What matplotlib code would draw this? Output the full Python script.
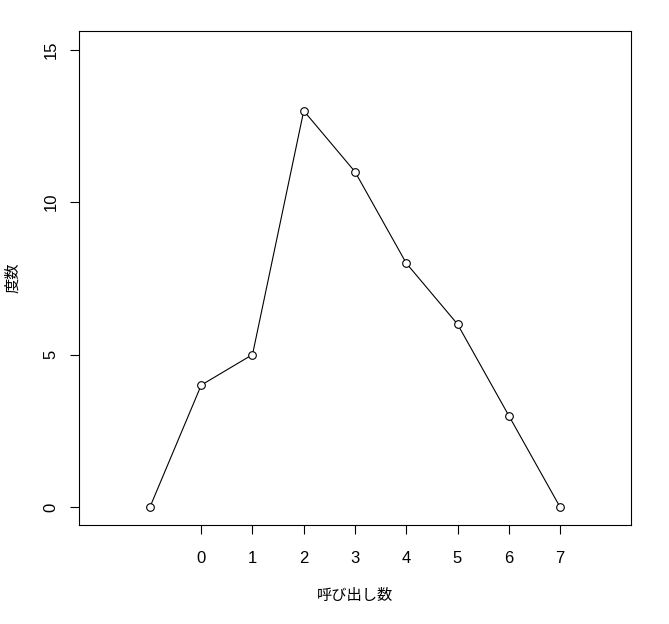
import matplotlib
matplotlib.use("Agg")
import matplotlib.pyplot as plt

# data
calls = [-1, 0, 1, 2, 3, 4, 5, 6, 7]
freq = [0, 4, 5, 13, 11, 8, 6, 3, 0]
xticks = [0, 1, 2, 3, 4, 5, 6, 7]
yticks = [0, 5, 10, 15]

plt.rcParams["font.family"] = ["Liberation Sans", "Noto Sans CJK JP", "DejaVu Sans"]

fig = plt.figure(figsize=(6.69, 6.24), dpi=100)
ax = fig.add_axes([0.1181, 0.1587, 0.8251, 0.7917])

ax.plot(calls, freq, color="black", linewidth=0.8,
        marker="o", markersize=5.5, markerfacecolor="white",
        markeredgecolor="black", markeredgewidth=0.8)

ax.set_xlim(-2.385, 8.385)
ax.set_ylim(-0.59, 15.62)
ax.set_xticks(xticks)
ax.set_yticks(yticks)
ax.set_xticklabels([str(t) for t in xticks], fontsize=12)
ax.set_yticklabels([str(t) for t in yticks], fontsize=12, rotation=90, va="center")
ax.tick_params(axis="both", length=6.5, width=0.8, pad=12)
ax.tick_params(axis="y", pad=8)
for s in ax.spines.values():
    s.set_linewidth(0.8)

cjk = ["Noto Sans CJK JP", "DejaVu Sans"]
ax.set_xlabel("呼び出し数", fontsize=11, family=cjk, va="center")
ax.set_ylabel("度数", fontsize=11, family=cjk, va="center")
ax.xaxis.set_label_coords(0.5, -0.142)
ax.yaxis.set_label_coords(-0.121, 0.5)

fig.savefig("out.png", dpi=100)
